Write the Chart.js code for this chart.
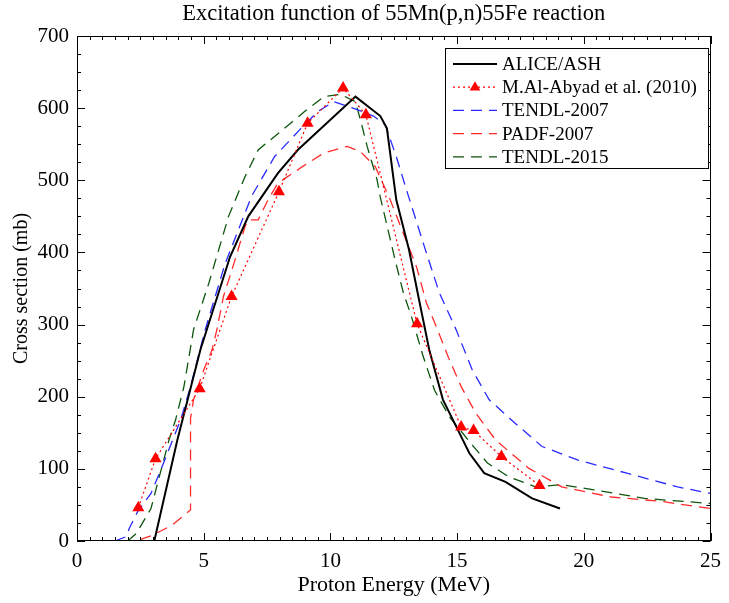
<!DOCTYPE html>
<html>
<head>
<meta charset="utf-8">
<script src="https://cdn.jsdelivr.net/npm/chart.js@4.4.1/dist/chart.umd.min.js"></script>
<style>
  html, body { margin: 0; padding: 0; background: #fff; }
  #wrap { width: 729px; height: 603px; }
</style>
</head>
<body>
<div id="wrap"><canvas id="myChart1" width="729" height="603"></canvas></div>
<script>
// values (energy in MeV, cross section in mb)
const aliceE  = [1.0, 3.05, 3.96, 4.87, 6.04, 6.76, 7.93, 8.71, 10.99, 11.97, 12.23, 12.6, 13.1, 13.5, 13.9, 14.44, 15.03, 15.48, 16.07, 16.91, 17.96, 19.06];
const aliceXS = [0, 0, 140, 265, 394, 450, 510, 542, 616, 589, 572, 473, 404, 334, 265, 196, 154, 122, 94, 82, 59, 45];

const abyadE  = [2.42, 3.1, 4.84, 6.1, 7.97, 9.1, 10.5, 11.4, 13.42, 15.16, 15.65, 16.75, 18.25];
const abyadXS = [46, 114, 211, 339, 484, 579, 628, 591, 301, 158, 153, 117, 77];

const tendl07E  = [1.5, 1.94, 2.07, 2.4, 2.92, 3.3, 4.09, 4.48, 5.06, 5.85, 6.89, 7.8, 8.84, 9.49, 10.14, 11.05, 11.7, 12.16, 12.6, 13.0, 13.79, 14.3, 14.96, 15.6, 16.26, 17.3, 18.35, 19.78, 21.7, 23.7, 25.0];
const tendl07XS = [0, 6, 18, 41, 66, 98, 168, 214, 293, 385, 478, 533, 572, 595, 609, 598, 589, 577, 533, 487, 399, 344, 293, 237, 196, 163, 131, 112, 94, 75, 66];

const padfE  = [1.1, 2.33, 2.98, 3.76, 4.48, 4.48, 4.6, 5.0, 5.33, 5.52, 5.78, 6.24, 6.63, 6.76, 7.15, 7.54, 7.93, 8.9, 9.75, 10.66, 11.18, 11.77, 12.36, 13.4, 13.79, 14.18, 14.64, 15.16, 15.74, 16.52, 17.82, 19.13, 21.08, 23.03, 25.0];
const padfXS = [0, 0, 8, 22, 43, 170, 196, 237, 265, 293, 339, 390, 436, 445, 445, 473, 496, 519, 538, 547, 540, 519, 473, 380, 330, 297, 256, 214, 177, 140, 101, 75, 61, 55, 45];

const tendl15E  = [2.0, 2.33, 2.92, 3.18, 3.63, 3.89, 4.22, 4.6, 5.2, 5.98, 6.63, 7.15, 8.97, 9.75, 10.4, 10.99, 11.25, 11.45, 11.84, 11.96, 12.55, 12.88, 13.2, 13.66, 14.11, 14.7, 15.6, 16.2, 17.04, 18.09, 19.13, 20.4, 22.4, 25.0];
const tendl15XS = [0, 10, 45, 80, 140, 168, 214, 293, 357, 450, 505, 542, 595, 616, 619, 609, 575, 547, 501, 478, 390, 344, 311, 256, 209, 172, 133, 108, 89, 75, 78, 71, 59, 52];

const seriesNames = ['ALICE/ASH', 'M.Al-Abyad et al. (2010)', 'TENDL-2007', 'PADF-2007', 'TENDL-2015'];
const xTicks = [0, 5, 10, 15, 20, 25];
const yTicks = [0, 100, 200, 300, 400, 500, 600, 700];
const chartTitle = 'Excitation function of 55Mn(p,n)55Fe reaction';

const serif = "'Liberation Serif', 'Times New Roman', 'DejaVu Serif', serif";

function pts(xs, ys) {
    return xs.map((x, i) => ({x: x, y: ys[i]}));
}

// 안쪽 눈금 + 테두리 + 제목 (플롯 영역 가운데 정렬)
const frameTicks = {
    id: 'frameTicks',
    afterDatasetsDraw(chart) {
        const {ctx, chartArea: a, scales: {x, y}} = chart;
        ctx.save();
        ctx.strokeStyle = '#000';
        ctx.lineWidth = 1;
        ctx.beginPath();
        for (let v = xTicks[0]; v <= xTicks[xTicks.length - 1] + 1e-9; v += 0.5) {
            const px = Math.round(x.getPixelForValue(v)) + 0.5;
            const len = Math.abs(v % 5) < 1e-9 ? 8 : 4;
            ctx.moveTo(px, a.bottom); ctx.lineTo(px, a.bottom - len);
            ctx.moveTo(px, a.top); ctx.lineTo(px, a.top + len);
        }
        for (let v = yTicks[0]; v <= yTicks[yTicks.length - 1]; v += 25) {
            const py = Math.round(y.getPixelForValue(v)) + 0.5;
            const len = v % 100 === 0 ? 8 : 4;
            ctx.moveTo(a.left, py); ctx.lineTo(a.left + len, py);
            ctx.moveTo(a.right, py); ctx.lineTo(a.right - len, py);
        }
        ctx.stroke();
        ctx.strokeRect(Math.round(a.left) + 0.5, Math.round(a.top) + 0.5,
                       Math.round(a.right - a.left) - 1, Math.round(a.bottom - a.top) - 1);

        ctx.fillStyle = '#000';
        ctx.font = '22.5px ' + serif;
        ctx.textAlign = 'center';
        ctx.textBaseline = 'middle';
        ctx.fillText(chartTitle, (a.left + a.right) / 2, 14);
        ctx.restore();
    }
};

// 범례 박스 (차트 안쪽 오른쪽 위)
const boxLegend = {
    id: 'boxLegend',
    afterDraw(chart) {
        const ctx = chart.ctx;
        const bx = 445, by = 48, bw = 263, bh = 120;
        ctx.save();
        ctx.fillStyle = '#fff';
        ctx.fillRect(bx, by, bw, bh);
        ctx.strokeStyle = '#000';
        ctx.lineWidth = 1;
        ctx.strokeRect(bx + 0.5, by + 0.5, bw, bh);
        const rows = [0, 1, 2, 3, 4];
        rows.forEach((k, i) => {
            const ds = chart.data.datasets.find(d => d.label === seriesNames[k]);
            const cy = 64 + i * 23.2;
            ctx.strokeStyle = ds.borderColor;
            ctx.lineWidth = ds.borderWidth;
            ctx.setLineDash(ds.borderDash || []);
            ctx.beginPath();
            ctx.moveTo(453, cy);
            ctx.lineTo(497, cy);
            ctx.stroke();
            ctx.setLineDash([]);
            if (ds.pointRadius > 0) {
                const r = 6;
                ctx.fillStyle = ds.pointBackgroundColor;
                ctx.beginPath();
                ctx.moveTo(475, cy - r);
                ctx.lineTo(475 + r * 0.9, cy + r * 0.55);
                ctx.lineTo(475 - r * 0.9, cy + r * 0.55);
                ctx.closePath();
                ctx.fill();
            }
            ctx.fillStyle = '#000';
            ctx.font = '19px ' + serif;
            ctx.textBaseline = 'middle';
            ctx.textAlign = 'left';
            ctx.fillText(seriesNames[k], 502, cy + 1);
        });
        ctx.restore();
    }
};

const ctx = document.getElementById('myChart1').getContext('2d');

const config = {
    type: 'scatter',
    data: {
        datasets: [
            {
                label: seriesNames[1],
                data: pts(abyadE, abyadXS),
                showLine: true,
                borderColor: '#ff0000',
                borderWidth: 1.2,
                borderDash: [2, 3],
                pointStyle: 'triangle',
                pointRadius: 7,
                pointBackgroundColor: '#ff0000',
                pointBorderColor: '#ff0000',
                pointBorderWidth: 0,
                order: 0
            },
            {
                label: seriesNames[0],
                data: pts(aliceE, aliceXS),
                showLine: true,
                borderColor: '#000000',
                borderWidth: 2,
                pointRadius: 0,
                order: 1
            },
            {
                label: seriesNames[2],
                data: pts(tendl07E, tendl07XS),
                showLine: true,
                borderColor: '#2a2aff',
                borderWidth: 1.3,
                borderDash: [11, 7],
                pointRadius: 0,
                order: 2
            },
            {
                label: seriesNames[3],
                data: pts(padfE, padfXS),
                showLine: true,
                borderColor: '#ff2a2a',
                borderWidth: 1.3,
                borderDash: [11, 7],
                pointRadius: 0,
                order: 3
            },
            {
                label: seriesNames[4],
                data: pts(tendl15E, tendl15XS),
                showLine: true,
                borderColor: '#0c560c',
                borderWidth: 1.3,
                borderDash: [11, 7],
                pointRadius: 0,
                order: 4
            }
        ]
    },
    options: {
        responsive: false,
        animation: false,
        devicePixelRatio: 1,
        layout: {padding: {top: 36, right: 11, bottom: 0, left: 0}},
        elements: {line: {tension: 0}},
        plugins: {
            legend: {display: false},
            tooltip: {enabled: false},
            title: {display: false}
        },
        scales: {
            x: {
                type: 'linear',
                min: xTicks[0],
                max: xTicks[xTicks.length - 1],
                afterBuildTicks: s => { s.ticks = xTicks.map(v => ({value: v})); },
                grid: {display: false, drawTicks: false},
                border: {display: false},
                ticks: {color: '#000', font: {family: serif, size: 21}, padding: 8, maxRotation: 0},
                title: {
                    display: true,
                    text: 'Proton Energy (MeV)',
                    color: '#000',
                    font: {family: serif, size: 22},
                    padding: {top: 0, bottom: 5}
                },
                afterFit: s => { s.height = 62; }
            },
            y: {
                type: 'linear',
                min: yTicks[0],
                max: yTicks[yTicks.length - 1],
                afterBuildTicks: s => { s.ticks = yTicks.map(v => ({value: v})); },
                grid: {display: false, drawTicks: false},
                border: {display: false},
                ticks: {color: '#000', font: {family: serif, size: 21}, padding: 8},
                title: {
                    display: true,
                    text: 'Cross section (mb)',
                    color: '#000',
                    font: {family: serif, size: 20},
                    padding: {top: 10, bottom: 0}
                },
                afterFit: s => { s.width = 77; }
            }
        }
    },
    plugins: [frameTicks, boxLegend]
};

let myChart1 = new Chart(ctx, config);
</script>
</body>
</html>
